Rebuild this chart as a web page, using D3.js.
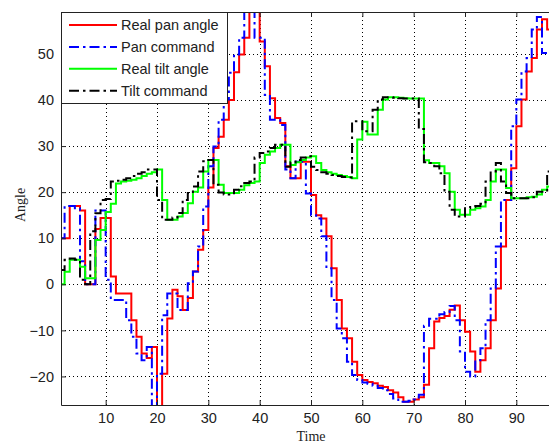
<!DOCTYPE html>
<html>
<head>
<meta charset="utf-8">
<script src="https://cdn.jsdelivr.net/npm/d3@7"></script>
<style>
  body { margin: 0; background: #fff; }
  text { font-family: "Liberation Sans", Arial, sans-serif; fill: #222; }
  .axislabel { font-family: "Liberation Serif", "Times New Roman", serif; }
</style>
</head>
<body>
<div id="chart"></div>
<script>
// sampled once per time unit, starting at t = 1 (stairs)
var panReal = [
  10, 10, 17, 17, 16, 0, 0, 12, 14.4, 14.4,
  1.7, -2, -2, -2, -7.8, -11.4, -15, -16, -13.6, -28,
  -19.4, -7.4, -1.2, -2.6, -5.6, -3, 2.8, 7.5, 11.8, 21,
  29.6, 32, 35.7, 40, 46, 49.9, 53.5, 62, 62, 52.7,
  47.3, 40.4, 36.1, 35, 25.6, 23, 23, 26.6, 26.6, 19.4,
  15, 14.3, 10.4, 3.5, -3.4, -9.6, -11.7, -16.8, -19.7, -20.8,
  -21.2, -21.5, -22, -22.3, -23, -23.5, -24.5, -25.5, -25.5, -25,
  -24.5, -21.8, -13.9, -8.1, -7.3, -6.9, -5.5, -4.6, -7.8, -10.3,
  -14.6, -19, -16.5, -13.9, -7.8, -0.9, 8.2, 18.3, 25.2, 34.3,
  40.1, 46.2, 49.1, 55.3, 57.5, 55.3, 55.3
];
var panCommand = [
  10, 17, 17, 16.5, 5, 0, 0, 16, 16, 1,
  -3.4, -3.4, -3.4, -7.8, -11.4, -15, -16.5, -13.6, -28, -19.4,
  -6.7, -2, -2, -5.6, -5.6, 0.2, 2.8, 8.2, 16.9, 25.6,
  29.9, 35.7, 40.1, 45.9, 49.9, 53.5, 62, 62, 53.5, 53.5,
  41.1, 35.7, 35.7, 34.6, 24.9, 23, 26.6, 26.6, 19.7, 15,
  14.3, 10.4, 3.5, -3.4, -9.6, -11.7, -16.8, -19.7, -20.8, -21.3,
  -21.6, -22, -22.5, -23, -23.8, -24.8, -25.5, -25.5, -25.3, -25,
  -24, -9, -7.5, -7.5, -6.5, -6, -4.7, -7.8, -14.6, -19,
  -20, -16.5, -13.9, -7.8, -0.9, 8.2, 18.3, 18.3, 34.3, 40.1,
  46.2, 49.1, 55.3, 58, 50.2, 50.2, 50.2
];
var tiltReal = [
  0, 2.7, 5.3, 5.3, 3.8, 1.3, 1.3, 9.6, 11.8, 15.7,
  17.5, 21.9, 22.3, 22.5, 22.7, 23, 23.5, 24, 24.3, 24.9,
  18.3, 14, 14, 14.7, 15.5, 17.6, 20.1, 21, 24.5, 27,
  27, 21.6, 19.8, 19.8, 19.8, 20.5, 21.5, 22, 22.3, 26.3,
  28.1, 28.8, 29.6, 30.3, 30.3, 25.9, 26.5, 27, 27.5, 27.8,
  26.3, 24.8, 24.3, 24, 23.7, 23.5, 23.3, 23, 31.4, 35.3,
  32.5, 32.5, 37.9, 40.1, 40.6, 40.6, 40.5, 40.4, 40.3, 40.3,
  40.3, 26.9, 26.3, 26.3, 25.6, 24.1, 20.1, 16.2, 15.1, 15.1,
  16.2, 16.5, 16.9, 18.3, 22.3, 24.9, 24.9, 20.9, 18.7, 18.7,
  18.7, 18.9, 19, 19.5, 20.5, 21.2, 21.5
];
var tiltCommand = [
  3.1, 5.3, 5.6, 5.3, 1, 0, 11.5, 15.4, 18.3, 18.5,
  22.3, 22.5, 22.7, 23, 23.5, 24, 24.3, 24.9, 24.9, 18.3,
  14, 14, 14.5, 15.5, 18.3, 19.8, 21.2, 24.5, 26.7, 27,
  21.6, 19.9, 19.5, 19.5, 20.5, 21.3, 22, 22.3, 27.5, 28.5,
  28.8, 29.6, 30.3, 30.3, 25.5, 26.5, 27, 27.5, 27.8, 25.5,
  24.8, 24.3, 24, 23.7, 23.5, 23.3, 23.2, 35.4, 35.4, 33.2,
  33.2, 37.9, 40.1, 40.6, 40.6, 40.5, 40.4, 40.3, 40.3, 40.3,
  33.7, 26.5, 26.3, 25.6, 24.1, 20.1, 16.2, 14.7, 14.7, 16.5,
  16.8, 17, 17.5, 22.3, 24.5, 26.3, 22.3, 19.8, 18.7, 18.7,
  18.7, 18.7, 18.9, 20.1, 20.1, 24.5, 24.5
];

var xTicks = [10, 20, 30, 40, 50, 60, 70, 80, 90];
var yTicks = [-20, -10, 0, 10, 20, 30, 40, 50];
var legendNames = ["Real pan angle", "Pan command", "Real tilt angle", "Tilt command"];

var width = 549, height = 444;
var plot = {left: 61, right: 561, top: 12, bottom: 405};

var x = d3.scaleLinear().domain([1.3, 98.7]).range([plot.left, plot.right]);
var y = d3.scaleLinear().domain([-26.2, 59.1]).range([plot.bottom, plot.top]);

var series = [
  {name: legendNames[0], values: panReal, color: "#ff0000", dash: null},
  {name: legendNames[1], values: panCommand, color: "#0000ff", dash: "10,4,2.5,4"},
  {name: legendNames[2], values: tiltReal, color: "#00ff00", dash: null},
  {name: legendNames[3], values: tiltCommand, color: "#000000", dash: "10,4,2.5,4"}
];

var svg = d3.select("#chart").append("svg")
  .attr("width", width)
  .attr("height", height)
  .style("display", "block");

svg.append("rect").attr("width", width).attr("height", height).attr("fill", "#fff");

svg.append("clipPath").attr("id", "plotclip")
  .append("rect")
  .attr("x", plot.left).attr("y", plot.top)
  .attr("width", plot.right - plot.left).attr("height", plot.bottom - plot.top);

// dotted grid
var grid = svg.append("g").attr("stroke", "#000").attr("stroke-width", 1)
  .attr("stroke-dasharray", "1,3");
grid.selectAll(".vg").data(xTicks).enter().append("line")
  .attr("x1", function(d) { return Math.round(x(d)) + 0.5; })
  .attr("x2", function(d) { return Math.round(x(d)) + 0.5; })
  .attr("y1", plot.top).attr("y2", plot.bottom);
grid.selectAll(".hg").data(yTicks).enter().append("line")
  .attr("y1", function(d) { return Math.round(y(d)) + 0.5; })
  .attr("y2", function(d) { return Math.round(y(d)) + 0.5; })
  .attr("x1", plot.left).attr("x2", plot.right);

// stairs
var line = d3.line()
  .x(function(d) { return x(d[0]); })
  .y(function(d) { return y(d[1]); })
  .curve(d3.curveStepAfter);

var lines = svg.append("g").attr("clip-path", "url(#plotclip)");
series.forEach(function(s) {
  var pts = s.values.map(function(v, i) { return [i + 1, v]; });
  pts.push([x.domain()[1], s.values[s.values.length - 1]]);
  lines.append("path")
    .datum(pts)
    .attr("d", line)
    .attr("fill", "none")
    .attr("stroke", s.color)
    .attr("stroke-width", 2)
    .attr("stroke-dasharray", s.dash);
});

// axes, ticks pointing inwards like matlab
var xAxis = svg.append("g")
  .attr("transform", "translate(0," + plot.bottom + ")")
  .call(d3.axisBottom(x).tickValues(xTicks).tickSize(-5).tickSizeOuter(0).tickPadding(8));
var xTop = svg.append("g")
  .attr("transform", "translate(0," + plot.top + ")")
  .call(d3.axisTop(x).tickValues(xTicks).tickSize(-5).tickSizeOuter(0).tickFormat(""));
var yAxis = svg.append("g")
  .attr("transform", "translate(" + plot.left + ",0)")
  .call(d3.axisLeft(y).tickValues(yTicks).tickSize(-5).tickSizeOuter(0).tickPadding(7));

[xAxis, xTop, yAxis].forEach(function(g) {
  g.select(".domain").attr("stroke", "#222");
  g.selectAll(".tick line").attr("stroke", "#222");
  g.selectAll("text").style("font-size", "14.5px").attr("fill", "#222");
});

svg.append("text").attr("class", "axislabel")
  .attr("x", 311).attr("y", 441)
  .attr("text-anchor", "middle")
  .style("font-size", "14px")
  .text("Time");

svg.append("text").attr("class", "axislabel")
  .attr("transform", "translate(25,205) rotate(-90)")
  .attr("text-anchor", "middle")
  .style("font-size", "14px")
  .text("Angle");

// legend
var legend = svg.append("g");
legend.append("rect")
  .attr("x", 61.5).attr("y", 12.5)
  .attr("width", 166).attr("height", 91)
  .attr("fill", "#fff").attr("stroke", "#222");

legend.selectAll("g.item").data(series).enter().append("g")
  .attr("class", "item")
  .each(function(d, i) {
    var g = d3.select(this);
    var yy = 25 + i * 21.9;
    g.append("line")
      .attr("x1", 69).attr("x2", 117)
      .attr("y1", yy).attr("y2", yy)
      .attr("stroke", d.color).attr("stroke-width", 2)
      .attr("stroke-dasharray", d.dash);
    g.append("text")
      .attr("x", 121).attr("y", yy).attr("dy", "0.36em")
      .style("font-size", "14.5px")
      .text(d.name);
  });
</script>
</body>
</html>
